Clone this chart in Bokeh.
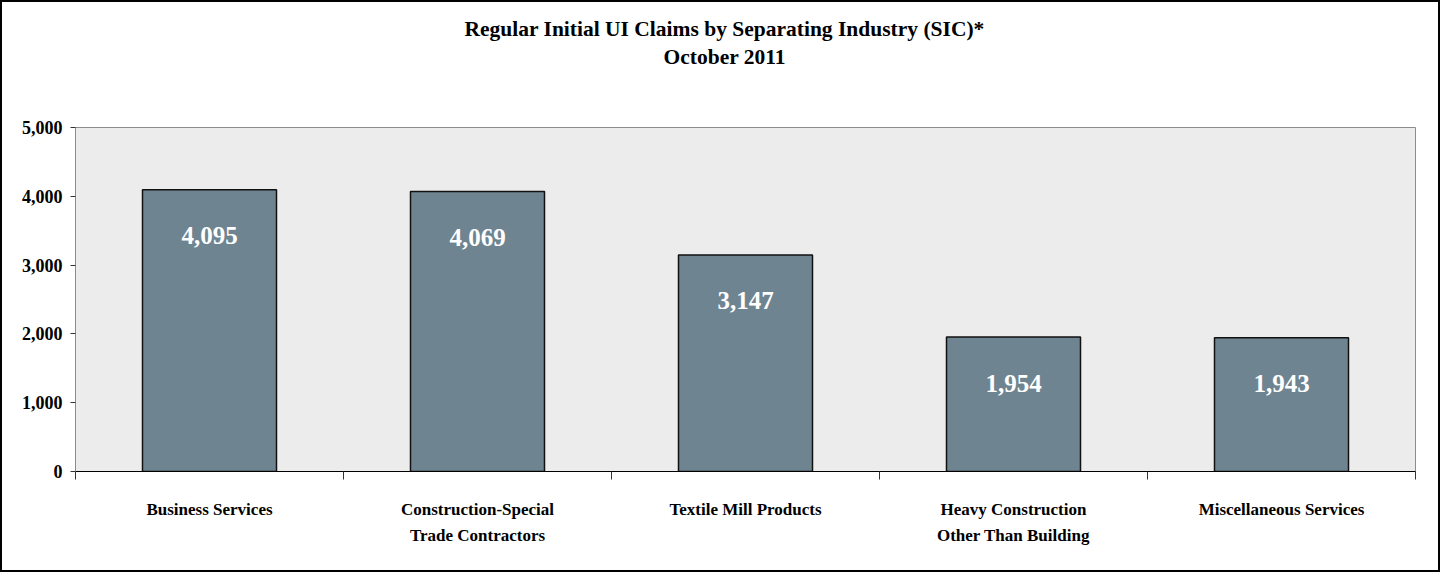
from bokeh.plotting import figure
from bokeh.models import Range1d, FixedTicker, LinearAxis, Title, ColumnDataSource, NumeralTickFormatter
from bokeh.core.properties import value
from bokeh.embed import file_html
from bokeh.resources import INLINE

categories = ["Business Services", "Construction-Special\nTrade Contractors", "Textile Mill Products",
              "Heavy Construction\nOther Than Building", "Miscellaneous Services"]
claims = [4095, 4069, 3147, 1954, 1943]
y_ticks = [0, 1000, 2000, 3000, 4000, 5000]
title_line1 = "Regular Initial UI Claims by Separating Industry (SIC)*"
title_line2 = "October 2011"

FONT = "Liberation Serif"
n = len(categories)
xs = [i + 0.5 for i in range(n)]
labels = [f"{v:,}" for v in claims]
src = ColumnDataSource(dict(x=xs, top=claims, label=labels))

p = figure(width=1440, height=572, output_backend="svg", toolbar_location=None,
           x_range=Range1d(0, n), y_range=Range1d(0, 5000),
           x_axis_type=None, y_axis_type=None,
           min_border_left=73, min_border_right=27, min_border_top=125, min_border_bottom=103)
p.styles = {"border": "2px solid #000000"}
p.background_fill_color = "#ECECEC"
p.border_fill_color = "white"
p.outline_line_color = "#8C8C8C"
p.outline_line_width = 1

# titles: a blank spacer nearest the frame, then line 2, then line 1
spacer = Title(text=" ", align="left", text_font=FONT, text_font_size="21px", standoff=32)
t2 = Title(text=title_line2, align="left", offset=588, text_font=FONT, text_font_style="bold",
           text_font_size="21.5px", text_color="black", standoff=2)
t1 = Title(text=title_line1, align="left", offset=389, text_font=FONT, text_font_style="bold",
           text_font_size="21.5px", text_color="black", standoff=2)
p.add_layout(spacer, "above")
p.add_layout(t2, "above")
p.add_layout(t1, "above")

# y axis
yax = LinearAxis(ticker=FixedTicker(ticks=y_ticks, minor_ticks=[]))
yax.formatter = NumeralTickFormatter(format="0,0")
yax.axis_line_color = "#8C8C8C"
yax.major_tick_out = 5
yax.major_tick_in = 0
yax.major_tick_line_color = "#333333"
yax.minor_tick_line_color = None
yax.major_label_standoff = 8
yax.major_label_text_font = FONT
yax.major_label_text_font_style = "bold"
yax.major_label_text_font_size = "18px"
yax.major_label_text_color = "black"
p.add_layout(yax, "left")

# x axis: labels at centers, ticks at category boundaries (minor)
xax = LinearAxis(ticker=FixedTicker(ticks=xs, minor_ticks=list(range(n + 1))))
xax.major_label_overrides = {x: c for x, c in zip(xs, categories)}
xax.axis_line_color = "black"
xax.axis_line_width = 1
xax.major_tick_out = 0
xax.major_tick_in = 0
xax.major_tick_line_color = None
xax.minor_tick_out = 8
xax.minor_tick_in = 0
xax.minor_tick_line_color = "#333333"
xax.major_label_standoff = 20
xax.major_label_text_font = FONT
xax.major_label_text_font_style = "bold"
xax.major_label_text_font_size = "17px"
xax.major_label_text_color = "black"
xax.major_label_text_line_height = 1.4
p.add_layout(xax, "below")

# grid
p.ygrid.ticker = FixedTicker(ticks=y_ticks)
p.ygrid.grid_line_color = "#555555"
p.ygrid.grid_line_width = 1
p.xgrid.grid_line_color = None

p.vbar(x="x", top="top", width=0.5, source=src, fill_color="#6F8491",
       line_color="#111111", line_width=1.5)

p.text(x="x", y="top", text="label", source=src, y_offset=46,
       text_font=value(FONT), text_font_style="bold", text_font_size="25px",
       text_color="white", text_align="center", text_baseline="middle")

open("out.html", "w").write(file_html(p, INLINE))
